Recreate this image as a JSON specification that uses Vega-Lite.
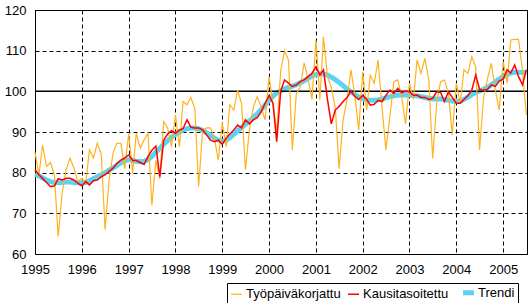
{
 "$schema": "https://vega.github.io/schema/vega-lite/v6.json",
 "width": 492, "height": 244,
 "autosize": {"type": "none"},
 "padding": {"left": 35, "top": 10, "right": 2, "bottom": 49},
 "background": "white",
 "config": {
  "font": "Liberation Sans",
  "view": {"stroke": "black", "strokeWidth": 1},
  "axis": {"labelFont": "Liberation Sans", "labelFontSize": 13, "labelColor": "black", "ticks": false, "domain": false, "grid": true, "gridColor": "black", "gridDash": [4, 3], "gridWidth": 1, "gridOpacity": 1, "title": null}
 },
 "datasets": {
  "rows": [
   {"t":"1995-01-01","Työpäiväkorjattu":85,"Kausitasoitettu":80.7,"Trendi":79.6},
   {"t":"1995-02-01","Työpäiväkorjattu":79.5,"Kausitasoitettu":79.5,"Trendi":79.2},
   {"t":"1995-03-01","Työpäiväkorjattu":86.8,"Kausitasoitettu":78.6,"Trendi":78.7},
   {"t":"1995-04-01","Työpäiväkorjattu":81.5,"Kausitasoitettu":77.6,"Trendi":78.2},
   {"t":"1995-05-01","Työpäiväkorjattu":82.5,"Kausitasoitettu":76.6,"Trendi":77.8},
   {"t":"1995-06-01","Työpäiväkorjattu":79.5,"Kausitasoitettu":76.7,"Trendi":77.6},
   {"t":"1995-07-01","Työpäiväkorjattu":64.3,"Kausitasoitettu":78.5,"Trendi":77.5},
   {"t":"1995-08-01","Työpäiväkorjattu":75,"Kausitasoitettu":78.2,"Trendi":77.6},
   {"t":"1995-09-01","Työpäiväkorjattu":80.7,"Kausitasoitettu":78.6,"Trendi":77.7},
   {"t":"1995-10-01","Työpäiväkorjattu":83.6,"Kausitasoitettu":78.6,"Trendi":77.7},
   {"t":"1995-11-01","Työpäiväkorjattu":81.1,"Kausitasoitettu":78.2,"Trendi":77.6},
   {"t":"1995-12-01","Työpäiväkorjattu":77.8,"Kausitasoitettu":77.4,"Trendi":77.5},
   {"t":"1996-01-01","Työpäiväkorjattu":78.6,"Kausitasoitettu":76.8,"Trendi":77.4},
   {"t":"1996-02-01","Työpäiväkorjattu":77.5,"Kausitasoitettu":77.8,"Trendi":77.6},
   {"t":"1996-03-01","Työpäiväkorjattu":85.6,"Kausitasoitettu":77,"Trendi":78},
   {"t":"1996-04-01","Työpäiväkorjattu":83.6,"Kausitasoitettu":78,"Trendi":78.5},
   {"t":"1996-05-01","Työpäiväkorjattu":87.2,"Kausitasoitettu":78.2,"Trendi":79},
   {"t":"1996-06-01","Työpäiväkorjattu":84.5,"Kausitasoitettu":79,"Trendi":79.5},
   {"t":"1996-07-01","Työpäiväkorjattu":66,"Kausitasoitettu":79.5,"Trendi":80},
   {"t":"1996-08-01","Työpäiväkorjattu":78.2,"Kausitasoitettu":80.3,"Trendi":80.6},
   {"t":"1996-09-01","Työpäiväkorjattu":84.8,"Kausitasoitettu":81.1,"Trendi":81.2},
   {"t":"1996-10-01","Työpäiväkorjattu":87.2,"Kausitasoitettu":82.3,"Trendi":81.8},
   {"t":"1996-11-01","Työpäiväkorjattu":87.2,"Kausitasoitettu":83.1,"Trendi":82.4},
   {"t":"1996-12-01","Työpäiväkorjattu":81,"Kausitasoitettu":83.6,"Trendi":82.9},
   {"t":"1997-01-01","Työpäiväkorjattu":89.5,"Kausitasoitettu":84.4,"Trendi":83.2},
   {"t":"1997-02-01","Työpäiväkorjattu":80,"Kausitasoitettu":83,"Trendi":83},
   {"t":"1997-03-01","Työpäiväkorjattu":89.7,"Kausitasoitettu":83,"Trendi":82.8},
   {"t":"1997-04-01","Työpäiväkorjattu":86,"Kausitasoitettu":82.5,"Trendi":82.7},
   {"t":"1997-05-01","Työpäiväkorjattu":88,"Kausitasoitettu":82,"Trendi":82.8},
   {"t":"1997-06-01","Työpäiväkorjattu":89.7,"Kausitasoitettu":84,"Trendi":83.2},
   {"t":"1997-07-01","Työpäiväkorjattu":72,"Kausitasoitettu":85.5,"Trendi":84},
   {"t":"1997-08-01","Työpäiväkorjattu":83,"Kausitasoitettu":86.5,"Trendi":85},
   {"t":"1997-09-01","Työpäiväkorjattu":78.5,"Kausitasoitettu":79,"Trendi":86},
   {"t":"1997-10-01","Työpäiväkorjattu":92.6,"Kausitasoitettu":88,"Trendi":87},
   {"t":"1997-11-01","Työpäiväkorjattu":91,"Kausitasoitettu":89.5,"Trendi":87.9},
   {"t":"1997-12-01","Työpäiväkorjattu":86.4,"Kausitasoitettu":90.3,"Trendi":88.7},
   {"t":"1998-01-01","Työpäiväkorjattu":94.2,"Kausitasoitettu":89.7,"Trendi":89.4},
   {"t":"1998-02-01","Työpäiväkorjattu":86.4,"Kausitasoitettu":90.5,"Trendi":90},
   {"t":"1998-03-01","Työpäiväkorjattu":97.5,"Kausitasoitettu":90.8,"Trendi":90.5},
   {"t":"1998-04-01","Työpäiväkorjattu":96.7,"Kausitasoitettu":93,"Trendi":90.8},
   {"t":"1998-05-01","Työpäiväkorjattu":98.5,"Kausitasoitettu":91.2,"Trendi":91},
   {"t":"1998-06-01","Työpäiväkorjattu":95.8,"Kausitasoitettu":91,"Trendi":91},
   {"t":"1998-07-01","Työpäiväkorjattu":76.6,"Kausitasoitettu":91,"Trendi":90.8},
   {"t":"1998-08-01","Työpäiväkorjattu":90.5,"Kausitasoitettu":90.5,"Trendi":90.4},
   {"t":"1998-09-01","Työpäiväkorjattu":91,"Kausitasoitettu":89.3,"Trendi":89.8},
   {"t":"1998-10-01","Työpäiväkorjattu":91,"Kausitasoitettu":88,"Trendi":89.1},
   {"t":"1998-11-01","Työpäiväkorjattu":88.5,"Kausitasoitettu":87.6,"Trendi":88.5},
   {"t":"1998-12-01","Työpäiväkorjattu":83.1,"Kausitasoitettu":88,"Trendi":88},
   {"t":"1999-01-01","Työpäiväkorjattu":92.2,"Kausitasoitettu":87,"Trendi":87.7},
   {"t":"1999-02-01","Työpäiväkorjattu":86.4,"Kausitasoitettu":88.5,"Trendi":88},
   {"t":"1999-03-01","Työpäiväkorjattu":96.7,"Kausitasoitettu":89.5,"Trendi":88.6},
   {"t":"1999-04-01","Työpäiväkorjattu":95.4,"Kausitasoitettu":90.5,"Trendi":89.4},
   {"t":"1999-05-01","Työpäiväkorjattu":100.3,"Kausitasoitettu":91.7,"Trendi":90.3},
   {"t":"1999-06-01","Työpäiväkorjattu":97,"Kausitasoitettu":91,"Trendi":91.1},
   {"t":"1999-07-01","Työpäiväkorjattu":80.7,"Kausitasoitettu":93,"Trendi":91.9},
   {"t":"1999-08-01","Työpäiväkorjattu":90.5,"Kausitasoitettu":92,"Trendi":92.7},
   {"t":"1999-09-01","Työpäiväkorjattu":96.2,"Kausitasoitettu":93,"Trendi":93.6},
   {"t":"1999-10-01","Työpäiväkorjattu":98.7,"Kausitasoitettu":93.5,"Trendi":94.5},
   {"t":"1999-11-01","Työpäiväkorjattu":96,"Kausitasoitettu":95,"Trendi":95.5},
   {"t":"1999-12-01","Työpäiväkorjattu":93,"Kausitasoitettu":97,"Trendi":96.6},
   {"t":"2000-01-01","Työpäiväkorjattu":103.6,"Kausitasoitettu":99,"Trendi":97.8},
   {"t":"2000-02-01","Työpäiväkorjattu":97,"Kausitasoitettu":97,"Trendi":98.8},
   {"t":"2000-03-01","Työpäiväkorjattu":90,"Kausitasoitettu":87.6,"Trendi":99.6},
   {"t":"2000-04-01","Työpäiväkorjattu":105,"Kausitasoitettu":100,"Trendi":100.2},
   {"t":"2000-05-01","Työpäiväkorjattu":110,"Kausitasoitettu":102.8,"Trendi":100.6},
   {"t":"2000-06-01","Työpäiväkorjattu":107.7,"Kausitasoitettu":102,"Trendi":101},
   {"t":"2000-07-01","Työpäiväkorjattu":85.6,"Kausitasoitettu":101.2,"Trendi":101.3},
   {"t":"2000-08-01","Työpäiväkorjattu":99.5,"Kausitasoitettu":101.6,"Trendi":101.6},
   {"t":"2000-09-01","Työpäiväkorjattu":101,"Kausitasoitettu":102.4,"Trendi":102.1},
   {"t":"2000-10-01","Työpäiväkorjattu":107,"Kausitasoitettu":102.8,"Trendi":102.6},
   {"t":"2000-11-01","Työpäiväkorjattu":103,"Kausitasoitettu":103.6,"Trendi":103.2},
   {"t":"2000-12-01","Työpäiväkorjattu":98,"Kausitasoitettu":104.4,"Trendi":103.8},
   {"t":"2001-01-01","Työpäiväkorjattu":112.6,"Kausitasoitettu":106,"Trendi":104.1},
   {"t":"2001-02-01","Työpäiväkorjattu":98,"Kausitasoitettu":104,"Trendi":104.3},
   {"t":"2001-03-01","Työpäiväkorjattu":113.4,"Kausitasoitettu":105.3,"Trendi":104.3},
   {"t":"2001-04-01","Työpäiväkorjattu":103.6,"Kausitasoitettu":98,"Trendi":104},
   {"t":"2001-05-01","Työpäiväkorjattu":101,"Kausitasoitettu":92,"Trendi":103.5},
   {"t":"2001-06-01","Työpäiväkorjattu":96,"Kausitasoitettu":95.4,"Trendi":102.9},
   {"t":"2001-07-01","Työpäiväkorjattu":81,"Kausitasoitettu":96.3,"Trendi":102.2},
   {"t":"2001-08-01","Työpäiväkorjattu":93,"Kausitasoitettu":97.5,"Trendi":101.4},
   {"t":"2001-09-01","Työpäiväkorjattu":98,"Kausitasoitettu":98.5,"Trendi":100.6},
   {"t":"2001-10-01","Työpäiväkorjattu":105.3,"Kausitasoitettu":100,"Trendi":99.9},
   {"t":"2001-11-01","Työpäiväkorjattu":99,"Kausitasoitettu":98.8,"Trendi":99.2},
   {"t":"2001-12-01","Työpäiväkorjattu":90.5,"Kausitasoitettu":98,"Trendi":98.6},
   {"t":"2002-01-01","Työpäiväkorjattu":104.8,"Kausitasoitettu":99,"Trendi":98.2},
   {"t":"2002-02-01","Työpäiväkorjattu":95.4,"Kausitasoitettu":98,"Trendi":97.9},
   {"t":"2002-03-01","Työpäiväkorjattu":104,"Kausitasoitettu":96.6,"Trendi":97.8},
   {"t":"2002-04-01","Työpäiväkorjattu":102,"Kausitasoitettu":96.8,"Trendi":97.8},
   {"t":"2002-05-01","Työpäiväkorjattu":107.7,"Kausitasoitettu":97.8,"Trendi":97.9},
   {"t":"2002-06-01","Työpäiväkorjattu":96,"Kausitasoitettu":97.5,"Trendi":98.1},
   {"t":"2002-07-01","Työpäiväkorjattu":85.6,"Kausitasoitettu":99,"Trendi":98.4},
   {"t":"2002-08-01","Työpäiväkorjattu":93.8,"Kausitasoitettu":100.3,"Trendi":98.7},
   {"t":"2002-09-01","Työpäiväkorjattu":102.4,"Kausitasoitettu":99.5,"Trendi":98.9},
   {"t":"2002-10-01","Työpäiväkorjattu":102.8,"Kausitasoitettu":100.7,"Trendi":99.1},
   {"t":"2002-11-01","Työpäiväkorjattu":98.7,"Kausitasoitettu":99.7,"Trendi":99.1},
   {"t":"2002-12-01","Työpäiväkorjattu":92,"Kausitasoitettu":100,"Trendi":99.1},
   {"t":"2003-01-01","Työpäiväkorjattu":102,"Kausitasoitettu":99.9,"Trendi":99.1},
   {"t":"2003-02-01","Työpäiväkorjattu":98,"Kausitasoitettu":99,"Trendi":99},
   {"t":"2003-03-01","Työpäiväkorjattu":107.7,"Kausitasoitettu":99.1,"Trendi":98.9},
   {"t":"2003-04-01","Työpäiväkorjattu":104.4,"Kausitasoitettu":98.5,"Trendi":98.7},
   {"t":"2003-05-01","Työpäiväkorjattu":108.1,"Kausitasoitettu":98.5,"Trendi":98.5},
   {"t":"2003-06-01","Työpäiväkorjattu":102.8,"Kausitasoitettu":98,"Trendi":98.3},
   {"t":"2003-07-01","Työpäiväkorjattu":83.5,"Kausitasoitettu":98.3,"Trendi":98.1},
   {"t":"2003-08-01","Työpäiväkorjattu":97,"Kausitasoitettu":99.9,"Trendi":98.1},
   {"t":"2003-09-01","Työpäiväkorjattu":102.4,"Kausitasoitettu":99.7,"Trendi":98.1},
   {"t":"2003-10-01","Työpäiväkorjattu":102.8,"Kausitasoitettu":97.5,"Trendi":98},
   {"t":"2003-11-01","Työpäiväkorjattu":99.5,"Kausitasoitettu":99.9,"Trendi":97.8},
   {"t":"2003-12-01","Työpäiväkorjattu":89.3,"Kausitasoitettu":98.5,"Trendi":97.6},
   {"t":"2004-01-01","Työpäiväkorjattu":102,"Kausitasoitettu":97.1,"Trendi":97.5},
   {"t":"2004-02-01","Työpäiväkorjattu":97,"Kausitasoitettu":97.1,"Trendi":97.6},
   {"t":"2004-03-01","Työpäiväkorjattu":105.3,"Kausitasoitettu":98,"Trendi":98},
   {"t":"2004-04-01","Työpäiväkorjattu":104.4,"Kausitasoitettu":99,"Trendi":98.6},
   {"t":"2004-05-01","Työpäiväkorjattu":108.5,"Kausitasoitettu":100.3,"Trendi":99.2},
   {"t":"2004-06-01","Työpäiväkorjattu":106,"Kausitasoitettu":104,"Trendi":99.7},
   {"t":"2004-07-01","Työpäiväkorjattu":85.6,"Kausitasoitettu":100.5,"Trendi":100.1},
   {"t":"2004-08-01","Työpäiväkorjattu":98.3,"Kausitasoitettu":100.3,"Trendi":100.5},
   {"t":"2004-09-01","Työpäiväkorjattu":103.2,"Kausitasoitettu":100.5,"Trendi":101},
   {"t":"2004-10-01","Työpäiväkorjattu":106.9,"Kausitasoitettu":101.6,"Trendi":101.6},
   {"t":"2004-11-01","Työpäiväkorjattu":100.3,"Kausitasoitettu":101.2,"Trendi":102.3},
   {"t":"2004-12-01","Työpäiväkorjattu":95.4,"Kausitasoitettu":102.5,"Trendi":103},
   {"t":"2005-01-01","Työpäiväkorjattu":107.3,"Kausitasoitettu":103,"Trendi":103.6},
   {"t":"2005-02-01","Työpäiväkorjattu":102,"Kausitasoitettu":105.3,"Trendi":104.1},
   {"t":"2005-03-01","Työpäiväkorjattu":112.6,"Kausitasoitettu":104.5,"Trendi":104.5},
   {"t":"2005-04-01","Työpäiväkorjattu":112.8,"Kausitasoitettu":106.5,"Trendi":104.7},
   {"t":"2005-05-01","Työpäiväkorjattu":112.8,"Kausitasoitettu":103.6,"Trendi":104.7},
   {"t":"2005-06-01","Työpäiväkorjattu":105,"Kausitasoitettu":101.6,"Trendi":104.6},
   {"t":"2005-07-01","Työpäiväkorjattu":94.2,"Kausitasoitettu":105.3,"Trendi":104.7}
  ]
 },
 "layer": [
  {
   "data": {"name": "rows"},
   "transform": [
    {"fold": ["Työpäiväkorjattu", "Kausitasoitettu", "Trendi"], "as": ["sarja", "arvo"]},
    {"filter": "datum.sarja === 'Trendi'"}
   ],
   "mark": {"type": "line", "strokeWidth": 5, "strokeCap": "butt", "strokeJoin": "round"},
   "encoding": {
    "x": {"field": "t", "type": "temporal",
          "scale": {"type": "utc", "domain": ["1995-01-01", "2005-07-06"]},
          "axis": {"format": "%Y", "tickCount": {"interval": "year", "step": 1}, "labelPadding": 9, "labelFlush": false, "labelOverlap": false}},
    "y": {"field": "arvo", "type": "quantitative",
          "scale": {"domain": [60, 120], "nice": false, "zero": false},
          "axis": {"values": [60, 70, 80, 90, 100, 110, 120], "labelPadding": 9}},
    "color": {"field": "sarja", "type": "nominal",
              "scale": {"domain": ["Työpäiväkorjattu", "Kausitasoitettu", "Trendi"], "range": ["#FFB21E", "#FF0000", "#5CD3F5"]},
              "legend": {"orient": "none", "legendX": 192, "legendY": 273, "direction": "horizontal", "title": null,
                         "symbolType": "stroke", "symbolSize": 120, "labelFontSize": 13, "labelFont": "Liberation Sans", "labelColor": "black",
                         "strokeColor": "black", "fillColor": "white", "padding": 3, "columnPadding": 4, "labelOffset": 3,
                         "encode": {"symbols": {"update": {"strokeWidth": {"signal": "datum.value === 'Trendi' ? 5 : (datum.value === 'Kausitasoitettu' ? 1.5 : 1.2)"}}}}}}
   }
  },
  {
   "data": {"values": [{"y": 100}]},
   "mark": {"type": "rule", "color": "black", "strokeWidth": 1.5},
   "encoding": {"y": {"field": "y", "type": "quantitative"}}
  },
  {
   "data": {"name": "rows"},
   "transform": [
    {"fold": ["Työpäiväkorjattu", "Kausitasoitettu", "Trendi"], "as": ["sarja", "arvo"]},
    {"filter": "datum.sarja === 'Työpäiväkorjattu'"}
   ],
   "mark": {"type": "line", "strokeWidth": 1.2, "strokeJoin": "miter"},
   "encoding": {
    "x": {"field": "t", "type": "temporal"},
    "y": {"field": "arvo", "type": "quantitative"},
    "color": {"field": "sarja", "type": "nominal"}
   }
  },
  {
   "data": {"name": "rows"},
   "transform": [
    {"fold": ["Työpäiväkorjattu", "Kausitasoitettu", "Trendi"], "as": ["sarja", "arvo"]},
    {"filter": "datum.sarja === 'Kausitasoitettu'"}
   ],
   "mark": {"type": "line", "strokeWidth": 1.5, "strokeJoin": "miter"},
   "encoding": {
    "x": {"field": "t", "type": "temporal"},
    "y": {"field": "arvo", "type": "quantitative"},
    "color": {"field": "sarja", "type": "nominal"}
   }
  }
 ]
}
